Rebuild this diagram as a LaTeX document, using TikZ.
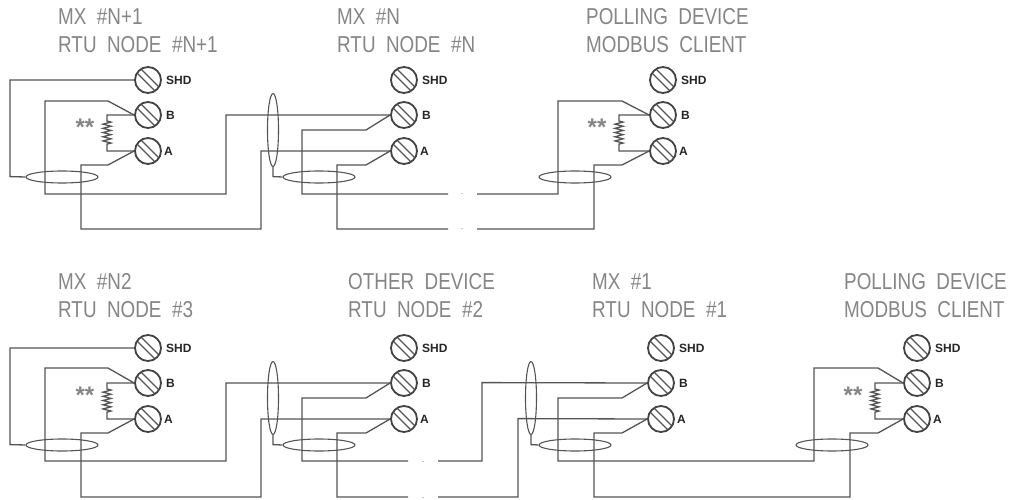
\documentclass[tikz,border=0pt]{standalone}
\usepackage{fontspec}
\setmainfont{Liberation Sans}
\newfontfamily\titlefont[FakeStretch=0.82]{Liberation Sans}
\usetikzlibrary{calc,positioning,shapes.geometric,decorations.pathmorphing}
\definecolor{wirecol}{gray}{0.33}
\definecolor{titlecol}{gray}{0.52}
\tikzset{
  wire/.style={draw=wirecol,line width=1.3pt},
  screw/.style={circle,draw=wirecol!80!black,line width=1.8pt,minimum size=26pt,inner sep=0pt,
    path picture={\draw[wirecol,line width=1.1pt] (-11,-7)--(7,11) (-7,-11)--(11,7);}},
  tag/.style={font=\fontsize{12}{12}\selectfont\bfseries,text=black!85,inner sep=0pt,anchor=west},
  title/.style={font=\titlefont\fontsize{23}{28}\selectfont,text=titlecol,align=left,inner sep=0pt,anchor=north west},
  stars/.style={font=\fontsize{24}{24}\selectfont\bfseries,text=titlecol,inner sep=0pt},
  shield/.style={ellipse,draw=wirecol,line width=1.1pt,minimum width=72pt,minimum height=12pt,inner sep=0pt},
  tallshield/.style={ellipse,draw=wirecol,line width=1.1pt,minimum width=11pt,minimum height=73pt,inner sep=0pt},
  coil/.style={decoration={zigzag,segment length=4.2pt,amplitude=4pt}},
  speck/.style={draw=gray!45,line width=1pt}
}
\begin{document}
\begin{tikzpicture}[x=1pt,y=-1pt]
\useasboundingbox (0,0) rectangle (1013,500);

% Titles
\node [title] (title1) at (58,8) {MX\ \ \#N+1\\RTU\ \ NODE\ \ \#N+1};
\node [title] (title2) at (337,8) {MX\ \ \#N\\RTU\ \ NODE\ \ \#N};
\node [title] (title3) at (586,8) {POLLING\ \ DEVICE\\MODBUS\ \ CLIENT};
\node [title] (title4) at (58,273) {MX\ \ \#N2\\RTU\ \ NODE\ \ \#3};
\node [title] (title5) at (348,273) {OTHER\ \ DEVICE\\RTU\ \ NODE\ \ \#2};
\node [title] (title6) at (592,273) {MX\ \ \#1\\RTU\ \ NODE\ \ \#1};
\node [title] (title7) at (844,273) {POLLING\ \ DEVICE\\MODBUS\ \ CLIENT};

% Terminals
\foreach \dev/\x/\y in {p/148/80,q/404/80,r/663/80,u/148/348,v/404/348,w/661/348,z/917/348} {
  \node [screw] (\dev s) at (\x,\y) {};
  \node [screw] (\dev b) at (\x,\y+35) {};
  \node [screw] (\dev a) at (\x,\y+71) {};
  \node [tag,right=4pt of \dev s] (\dev sl) {SHD};
  \node [tag,right=4pt of \dev b] (\dev bl) {B};
  \node [tag,right=2pt of \dev a] (\dev al) {A};
}

% Terminating resistors
\foreach \dev/\x in {p/107,r/619,u/107,z/875} {
  \coordinate (\dev r) at (\x,0);
  \draw [wire] (\dev b.west) -- (\dev r |- \dev b) -- ($(\dev r |- \dev b)+(0,6)$)
    decorate [coil] {-- ($(\dev r |- \dev a)+(0,-6)$)} -- (\dev r |- \dev a) -- (\dev a.west);
  \node [stars] (\dev star) at ($(\dev r |- \dev b)+(-22,12)$) {**};
}

% Shields
\node [shield] (ep) at (62,177) {};
\node [shield] (eq) at (319,177) {};
\node [shield] (er) at (575,177) {};
\node [shield] (eu) at (62,445) {};
\node [shield] (ev) at (319,445) {};
\node [shield] (ew) at (575,445) {};
\node [shield] (ez) at (832,445) {};
\node [tallshield] (tp) at (273,130) {};
\node [tallshield] (tu) at (273,398) {};
\node [tallshield] (tw) at (531,398) {};

% Shield returns
\draw [wire] (ps.west) -- (10,80) -- (10,176.6) -- (ep.west);
\draw [wire] (us.west) -- (10,348) -- (10,444.6) -- (eu.west);
\draw [wire] (tp.south) -- (273,176.6) -- (eq.west);
\draw [wire] (tu.south) -- (273,444.6) -- (ev.west);
\draw [wire] (tw.south) -- (531,444.6) -- (ew.west);

% Top row pairs
\draw [wire] (pb.west) -- (108,101) -- (45,101) -- (45,194) -- (226,194) -- (226,115) -- (qb.west);
\draw [wire] (pa.west) -- (108,165) -- (81,165) -- (81,229) -- (261,229) -- (261,151) -- (qa.west);
\coordinate (gap1) at (448,194);
\coordinate (gap2) at (448,229);
\coordinate (gap3) at (477,194);
\coordinate (gap4) at (477,229);
\draw [wire] (qb.west) -- (366,130) -- (302,130) -- (302,194) -- (gap1);
\draw [wire] (qa.west) -- (366,165) -- (337,165) -- (337,229) -- (gap2);
\draw [wire] (gap3) -- (558,194) -- (558,101) -- (622,101) -- (rb.west);
\draw [wire] (gap4) -- (594,229) -- (594,165) -- (622,165) -- (ra.west);
\draw [speck] (461,194) -- (463,194) (461,229) -- (463,229);

% Bottom row pairs
\draw [wire] (ub.west) -- (108,368) -- (45,368) -- (45,461) -- (226,461) -- (226,383) -- (vb.west);
\draw [wire] (ua.west) -- (108,433) -- (81,433) -- (81,497) -- (261,497) -- (261,419) -- (va.west);
\coordinate (gap5) at (408,461);
\coordinate (gap6) at (408,497);
\coordinate (gap7) at (438,461);
\coordinate (gap8) at (438,497);
\draw [wire] (vb.west) -- (366,398) -- (302,398) -- (302,461) -- (gap5);
\draw [wire] (va.west) -- (366,433) -- (337,433) -- (337,497) -- (gap6);
\draw [wire] (gap7) -- (482,461) -- (482,382.6) -- (wb.west);
\draw [wire] (gap8) -- (518,497) -- (518,418.6) -- (wa.west);
\draw [wire] (wb.west) -- (622,398) -- (558,398) -- (558,461) -- (814,461) -- (814,368) -- (878,368) -- (zb.west);
\draw [wire] (wa.west) -- (622,433) -- (594,433) -- (594,497) -- (850,497) -- (850,433) -- (878,433) -- (za.west);
\draw [speck] (422,461) -- (424,461) (422,497) -- (424,497);

\end{tikzpicture}
\end{document}
